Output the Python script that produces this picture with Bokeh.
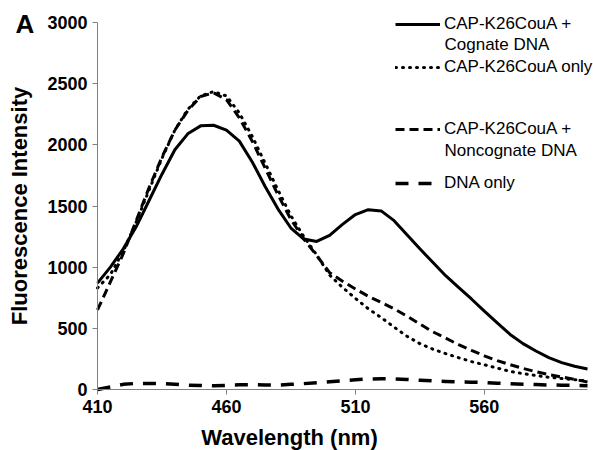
from bokeh.plotting import figure
from bokeh.models import Range1d, FixedTicker, Legend, LegendItem, Label
from bokeh.embed import file_html
from bokeh.resources import INLINE

wavelength = list(range(410, 601, 5))

cognate = [870, 1000, 1150, 1330, 1545, 1760, 1960, 2090, 2155, 2160,
           2120, 2030, 1860, 1660, 1475, 1320, 1230, 1210, 1260, 1350,
           1430, 1470, 1460, 1380, 1265, 1150, 1040, 930, 835, 740,
           640, 545, 450, 375, 315, 260, 220, 190, 168]

cap_only = [830, 940, 1130, 1370, 1630, 1890, 2120, 2290, 2400, 2435,
            2400, 2260, 2070, 1850, 1630, 1420, 1250, 1100, 935, 835,
            745, 660, 588, 510, 435, 375, 330, 293, 260, 228,
            202, 175, 148, 130, 114, 100, 90, 80, 70]

noncognate = [650, 880, 1110, 1380, 1650, 1900, 2120, 2280, 2395, 2425,
              2370, 2220, 2030, 1810, 1590, 1390, 1230, 1095, 955, 885,
              822, 762, 712, 660, 600, 535, 472, 420, 367, 320,
              275, 236, 203, 172, 145, 122, 102, 83, 62]

dna_only = [0, 20, 42, 50, 50, 48, 42, 36, 32, 30,
            34, 38, 40, 37, 36, 42, 48, 56, 64, 72,
            80, 86, 88, 86, 82, 76, 70, 66, 62, 60,
            57, 52, 47, 43, 40, 37, 35, 33, 30]

x_ticks = [410, 460, 510, 560]
y_ticks = [0, 500, 1000, 1500, 2000, 2500, 3000]
x_bounds = (410, 600)
y_bounds = (0, 3000)

FONT = "Liberation Sans"
W, H = 593, 450
# plot area of the axes, in page pixels
AX_L, AX_R, AX_T, AX_B = 97, 587, 22, 389

sx = (AX_R - AX_L) / (x_bounds[1] - x_bounds[0])
sy = (AX_B - AX_T) / (y_bounds[1] - y_bounds[0])
x_range = Range1d(x_bounds[0] - AX_L / sx, x_bounds[1] + (W - AX_R) / sx)
y_range = Range1d(y_bounds[0] - (H - AX_B) / sy, y_bounds[1] + AX_T / sy)

p = figure(width=W, height=H, output_backend="svg", toolbar_location=None,
           x_range=x_range, y_range=y_range,
           min_border=0, min_border_left=0, min_border_right=0,
           min_border_top=0, min_border_bottom=0)
p.outline_line_color = None
p.grid.visible = False

for ax in (p.xaxis, p.yaxis):
    ax.axis_line_color = "#808080"
    ax.major_tick_line_color = "#808080"
    ax.minor_tick_line_color = None
    ax.major_tick_in = 0
    ax.major_tick_out = 5
    ax.major_label_text_font = FONT
    ax.major_label_text_font_style = "bold"
    ax.major_label_text_font_size = "18px"
    ax.major_label_text_color = "black"
    ax.axis_label_text_font = FONT
    ax.axis_label_text_font_style = "bold"
    ax.axis_label_text_font_size = "22px"
    ax.axis_label_text_color = "black"

p.xaxis.ticker = FixedTicker(ticks=x_ticks)
p.yaxis.ticker = FixedTicker(ticks=y_ticks)
p.xaxis.bounds = x_bounds
p.yaxis.bounds = y_bounds
p.xaxis.fixed_location = y_bounds[0]
p.yaxis.fixed_location = x_bounds[0]
p.yaxis.axis_label = "Fluorescence Intensity"
p.xaxis.major_label_standoff = 5
p.yaxis.axis_label_standoff = 12

r_dna = p.line(wavelength, dna_only, line_color="black", line_width=3.5,
               line_dash="13 10")
r_non = p.line(wavelength, noncognate, line_color="black", line_width=3,
               line_dash="9 5")
r_only = p.line(wavelength, cap_only, line_color="black", line_width=3,
                line_dash="1 6", line_cap="round")
r_cog = p.line(wavelength, cognate, line_color="black", line_width=3)


def add_legend(renderer, label, y):
    lg = Legend(items=[LegendItem(label=label, renderers=[renderer])],
                location=(395, y), orientation="vertical",
                padding=0, margin=0, spacing=0,
                border_line_alpha=0, background_fill_alpha=0,
                glyph_width=45, glyph_height=20, label_height=20,
                label_standoff=4, label_text_font=FONT,
                label_text_font_size="17px", label_text_color="black")
    p.add_layout(lg)


add_legend(r_cog, "CAP-K26CouA +", 416)
add_legend(r_only, "CAP-K26CouA only", 373)
add_legend(r_non, "CAP-K26CouA +", 311)
add_legend(r_dna, "DNA only", 257)


def add_text(txt, x, y, size, bold=False, align="left"):
    p.add_layout(Label(x=x, y=y, x_units="screen", y_units="screen",
                       text=txt, text_baseline="alphabetic",
                       text_align=align, text_font=FONT,
                       text_font_size=size,
                       text_font_style="bold" if bold else "normal",
                       text_color="black"))


add_text("Cognate DNA", 444, 406, "17px")
add_text("Noncognate DNA", 444, 300, "17px")
add_text("A", 15, 427, "26px", bold=True)
add_text("Wavelength (nm)", 289, 13, "22px", bold=True, align="center")

open("out.html", "w").write(file_html(p, INLINE))
